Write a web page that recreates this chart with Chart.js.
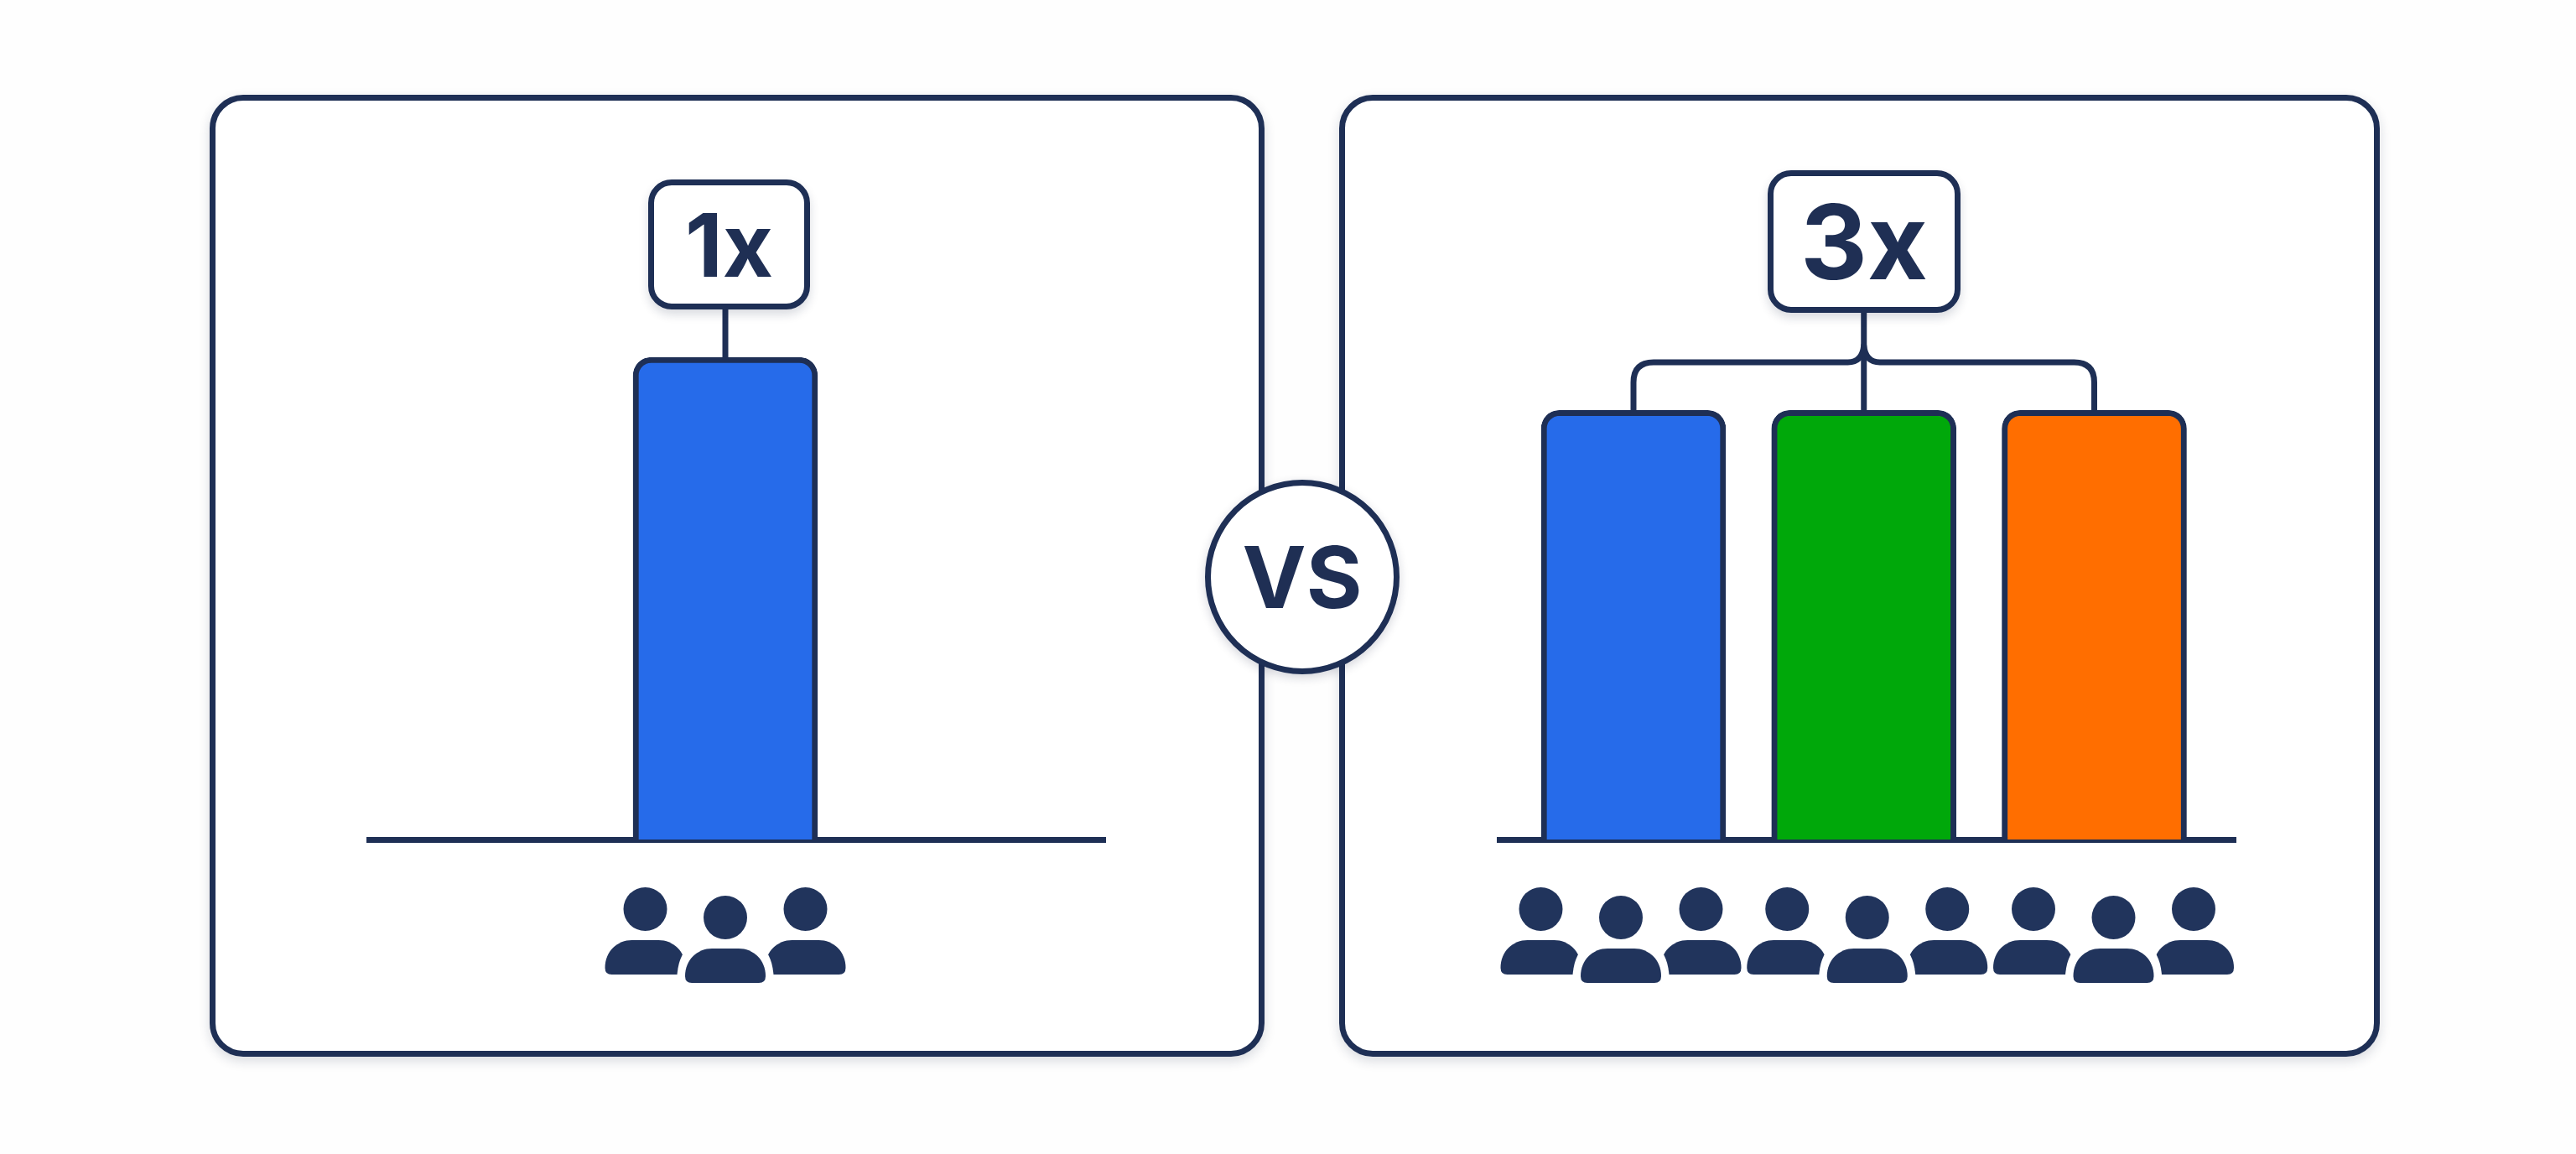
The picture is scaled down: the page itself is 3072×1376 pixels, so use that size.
<!DOCTYPE html>
<html><head><meta charset="utf-8">
<script src="https://cdn.jsdelivr.net/npm/chart.js@4"></script>
<style>
html,body{margin:0;padding:0;width:3072px;height:1376px;background:#fefefe;overflow:hidden}
.abs{position:absolute;box-sizing:border-box}
.panel{background:#fff;border:7px solid #1e2f55;border-radius:40px;box-shadow:0 5px 14px rgba(20,30,60,.16)}
canvas{position:absolute}
.badge{background:#fff;border:7px solid #1e2f55;border-radius:28px;box-shadow:0 6px 12px rgba(20,30,60,.16);
 display:flex;align-items:center;justify-content:center;font-family:Inter,sans-serif;font-weight:700;font-feature-settings:'calt' 0;color:#1f2f54;line-height:1}
.vs{background:#fff;border:7px solid #1e2f55;border-radius:50%;box-shadow:0 4px 12px rgba(20,30,60,.18);
 display:flex;align-items:center;justify-content:center;font-family:Inter,sans-serif;font-weight:700;font-feature-settings:'calt' 0;color:#1f2f54;font-size:102px;line-height:1}
</style></head>
<body>
<div class="abs panel" style="left:250px;top:113px;width:1258px;height:1147px"></div>
<div class="abs panel" style="left:1597px;top:113px;width:1241px;height:1147px"></div>
<canvas id="left" width="1258" height="1147" style="left:250px;top:113px"></canvas>
<canvas id="right" width="1241" height="1147" style="left:1597px;top:113px"></canvas>
<div class="abs badge" id="b1" style="left:773px;top:214px;width:193px;height:155px;font-size:104px"></div>
<div class="abs badge" id="b3" style="left:2108px;top:203px;width:230px;height:170px;font-size:124px"></div>
<div class="abs vs" id="vs" style="left:1437px;top:572px;width:232px;height:232px"></div>
<script>
const leftValues = [100];
const rightValues = [89, 89, 89];
const leftColors = ['#266bea'];
const rightColors = ['#266bea', '#00a80a', '#ff6e00'];
const leftLabel = '1x';
const rightLabel = '3x';
const middleLabel = 'VS';
const leftPeople = 3;
const rightPeople = 9;

document.getElementById('b1').textContent = leftLabel;
document.getElementById('b3').textContent = rightLabel;
document.getElementById('vs').textContent = middleLabel;

const NAVY = '#1e2f55';
const FILL = '#21345c';

function bodyPath(ctx, cx, top, grow) {
  const w = 48 + grow, b = top + 41 + grow, t = top - grow, r = 8;
  ctx.beginPath();
  ctx.moveTo(cx - w + r, b);
  ctx.quadraticCurveTo(cx - w, b, cx - w, b - r);
  ctx.bezierCurveTo(cx - w, t + 13, cx - w + 15, t, cx - 16, t);
  ctx.lineTo(cx + 16, t);
  ctx.bezierCurveTo(cx + w - 15, t, cx + w, t + 13, cx + w, b - r);
  ctx.quadraticCurveTo(cx + w, b, cx + w - r, b);
  ctx.closePath();
}
function person(ctx, cx, headY, front) {
  const top = headY + 37;
  if (front) {
    ctx.globalCompositeOperation = 'destination-out';
    bodyPath(ctx, cx, top, 10); ctx.fill();
    ctx.globalCompositeOperation = 'source-over';
  }
  ctx.fillStyle = FILL;
  ctx.beginPath(); ctx.arc(cx, headY, 26, 0, Math.PI * 2); ctx.fill();
  bodyPath(ctx, cx, top, 0); ctx.fill();
}
function peopleGroups(ctx, count, centres, yBack) {
  const n = Math.round(count / 3);
  for (let g = 0; g < n; g++) {
    const c = centres[g];
    person(ctx, c - 95.5, yBack, false);
    person(ctx, c + 95.5, yBack, false);
    person(ctx, c, yBack + 10, true);
  }
}
const leftDecor = {
  id: 'leftDecor',
  afterDraw(chart) {
    const ctx = chart.ctx, bar = chart.getDatasetMeta(0).data[0];
    ctx.save();
    ctx.strokeStyle = NAVY; ctx.lineWidth = 7;
    ctx.beginPath(); ctx.moveTo(bar.x, 240); ctx.lineTo(bar.x, bar.y + 3); ctx.stroke();
    peopleGroups(ctx, leftPeople, [bar.x], 971);
    ctx.restore();
  }
};
const rightDecor = {
  id: 'rightDecor',
  afterDraw(chart) {
    const ctx = chart.ctx, m = chart.getDatasetMeta(0).data;
    const xa = m[0].x, xb = m[1].x, xc = m[2].x, yt = m[0].y + 3;
    const hy = 319, r = 24;
    ctx.save();
    ctx.strokeStyle = NAVY; ctx.lineWidth = 7; ctx.lineJoin = 'round';
    ctx.beginPath(); ctx.moveTo(xb, 250); ctx.lineTo(xb, yt); ctx.stroke();
    ctx.beginPath();
    ctx.moveTo(xa, yt); ctx.lineTo(xa, hy + r);
    ctx.quadraticCurveTo(xa, hy, xa + r, hy);
    ctx.lineTo(xb - 19, hy);
    ctx.quadraticCurveTo(xb - 2, hy, xb, hy - 20);
    ctx.quadraticCurveTo(xb + 2, hy, xb + 19, hy);
    ctx.lineTo(xc - r, hy);
    ctx.quadraticCurveTo(xc, hy, xc, hy + r);
    ctx.lineTo(xc, yt);
    ctx.stroke();
    peopleGroups(ctx, rightPeople, [xa - 15, xb + 4, xc + 23], 971);
    ctx.restore();
  }
};
function barChart(id, values, colors, xMin, xMax, pad, plugin) {
  return new Chart(document.getElementById(id), {
    type: 'bar',
    data: { datasets: [{
      data: values.map((v, i) => ({ x: i + 1, y: v })),
      backgroundColor: colors,
      borderColor: NAVY,
      borderWidth: 7,
      borderSkipped: 'bottom',
      borderRadius: { topLeft: 22, topRight: 22, bottomLeft: 0, bottomRight: 0 },
      barThickness: 220
    }]},
    options: {
      responsive: false, animation: false,
      layout: { padding: pad },
      plugins: { legend: { display: false }, tooltip: { enabled: false } },
      scales: {
        x: { type: 'linear', min: xMin, max: xMax, z: 1, offset: false,
             grid: { display: false, drawTicks: false },
             ticks: { display: false },
             border: { display: true, color: NAVY, width: 7 } },
        y: { display: false, min: 0, max: 120 }
      }
    },
    plugins: [plugin]
  });
}
// left: plot 440..1318, bar centre 865
barChart('left', leftValues, leftColors, 1 - 425 / 274.75, 1 + 453 / 274.75,
  { left: 190, right: 190, top: 198, bottom: 259 }, leftDecor);
// right: plot 1788..2666, bar centres 1948..2497.5
barChart('right', rightValues, rightColors, 1 - 160 / 274.75, 3 + 168.5 / 274.75,
  { left: 191, right: 172, top: 198, bottom: 259 }, rightDecor);
</script>
</body></html>
